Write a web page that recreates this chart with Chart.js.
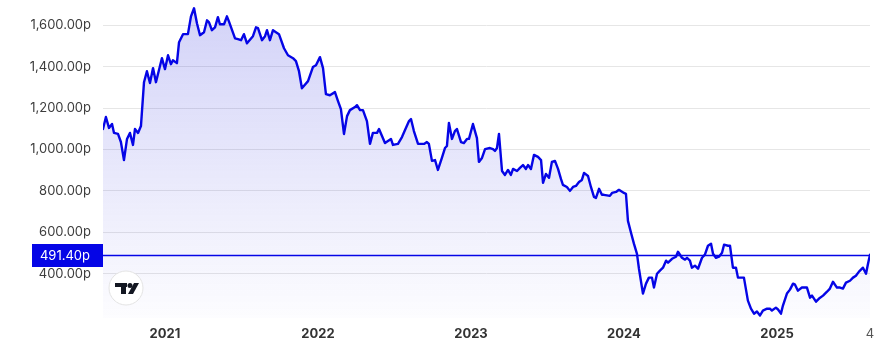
<!DOCTYPE html>
<html>
<head>
<meta charset="utf-8">
<script src="https://cdn.jsdelivr.net/npm/chart.js@4"></script>
<style>
  html, body { margin: 0; padding: 0; background: #fff; }
  #wrap { width: 891px; height: 362px; }
</style>
</head>
<body>
<div id="wrap"><canvas id="priceChart" width="891" height="362"></canvas></div>
<script>
// dates as decimal years, prices in pence
const times = [
    2020.595, 2020.614, 2020.634, 2020.654, 2020.667, 2020.693, 2020.712, 2020.732, 2020.752, 2020.771,
    2020.791, 2020.804, 2020.824, 2020.843, 2020.863, 2020.882, 2020.902, 2020.922, 2020.941, 2020.980,
    2021.000, 2021.020, 2021.039, 2021.052, 2021.078, 2021.092, 2021.118, 2021.150, 2021.170, 2021.190,
    2021.209, 2021.229, 2021.255, 2021.275, 2021.288, 2021.307, 2021.327, 2021.346, 2021.359, 2021.386,
    2021.405, 2021.418, 2021.458, 2021.477, 2021.497, 2021.516, 2021.536, 2021.575, 2021.595, 2021.608,
    2021.634, 2021.654, 2021.667, 2021.686, 2021.706, 2021.745, 2021.778, 2021.804, 2021.837, 2021.856,
    2021.876, 2021.895, 2021.935, 2021.967, 2021.987,
    2022.013, 2022.033, 2022.052, 2022.078, 2022.111, 2022.131, 2022.150, 2022.170, 2022.190, 2022.209,
    2022.242, 2022.255, 2022.275, 2022.294, 2022.320, 2022.340, 2022.359, 2022.386, 2022.399, 2022.438,
    2022.477, 2022.490, 2022.523, 2022.549, 2022.569, 2022.595, 2022.608, 2022.627, 2022.654, 2022.693,
    2022.712, 2022.725, 2022.745, 2022.765, 2022.784, 2022.810, 2022.830, 2022.843, 2022.856, 2022.876,
    2022.895, 2022.908, 2022.935, 2022.954, 2022.974, 2022.987,
    2023.013, 2023.026, 2023.039, 2023.052, 2023.072, 2023.092, 2023.124, 2023.144, 2023.157, 2023.170,
    2023.183, 2023.203, 2023.222, 2023.242, 2023.261, 2023.275, 2023.301, 2023.320, 2023.340, 2023.359,
    2023.373, 2023.392, 2023.412, 2023.438, 2023.458, 2023.471, 2023.490, 2023.510, 2023.529, 2023.549,
    2023.569, 2023.588, 2023.601, 2023.627, 2023.647, 2023.667, 2023.686, 2023.706, 2023.725, 2023.739,
    2023.765, 2023.784, 2023.804, 2023.817, 2023.837, 2023.856, 2023.869, 2023.908, 2023.922, 2023.948,
    2023.967,
    2024.000, 2024.013, 2024.026, 2024.046, 2024.065, 2024.085, 2024.098, 2024.124, 2024.144, 2024.163,
    2024.183, 2024.196, 2024.216, 2024.235, 2024.255, 2024.275, 2024.288, 2024.314, 2024.340, 2024.353,
    2024.379, 2024.399, 2024.412, 2024.431, 2024.444, 2024.464, 2024.484, 2024.510, 2024.529, 2024.549,
    2024.569, 2024.582, 2024.601, 2024.621, 2024.641, 2024.654, 2024.680, 2024.693, 2024.712, 2024.732,
    2024.745, 2024.771, 2024.784, 2024.810, 2024.830, 2024.850, 2024.869, 2024.889, 2024.908, 2024.935,
    2024.954, 2024.967, 2024.993,
    2025.007, 2025.026, 2025.039, 2025.065, 2025.085, 2025.105, 2025.118, 2025.137, 2025.163, 2025.196,
    2025.216, 2025.229, 2025.255, 2025.275, 2025.301, 2025.327, 2025.346, 2025.366, 2025.392, 2025.412,
    2025.431, 2025.451, 2025.477, 2025.497, 2025.516, 2025.536, 2025.562, 2025.582, 2025.595, 2025.608
];

const prices = [
    1099, 1157, 1104, 1123, 1080, 1075, 1036, 949, 1051, 1080,
    1022, 1099, 1080, 1113, 1325, 1378, 1321, 1393, 1325, 1441,
    1388, 1455, 1412, 1431, 1417, 1518, 1557, 1557, 1643, 1682,
    1610, 1552, 1566, 1624, 1614, 1576, 1590, 1639, 1605, 1605,
    1643, 1619, 1537, 1533, 1528, 1557, 1513, 1547, 1590, 1586,
    1528, 1547, 1576, 1528, 1576, 1557, 1489, 1455, 1441, 1427,
    1378, 1296, 1330, 1398, 1407,
    1446, 1393, 1267, 1262, 1277, 1234, 1195, 1075, 1161, 1190,
    1205, 1214, 1190, 1190, 1137, 1027, 1080, 1080, 1099, 1031,
    1051, 1022, 1027, 1060, 1094, 1137, 1147, 1089, 1027, 1027,
    1036, 1027, 945, 949, 901, 959, 1007, 1017, 1128, 1051,
    1089, 1099, 1036, 1031, 1051, 1051,
    1123, 1089, 1055, 940, 959, 1002, 1007, 1002, 993, 1007,
    1075, 896, 877, 901, 877, 906, 896, 911, 925, 906,
    925, 906, 974, 964, 949, 839, 882, 863, 940, 945,
    906, 858, 829, 819, 800, 819, 824, 843, 853, 887,
    872, 819, 771, 766, 810, 781, 781, 776, 790, 795,
    805,
    790, 786, 655, 598, 545, 496, 424, 304, 352, 381,
    381, 333, 400, 415, 429, 463, 453, 472, 482, 506,
    477, 468, 477, 463, 429, 439, 424, 477, 492, 535,
    545, 496, 477, 482, 501, 540, 535, 535, 429, 429,
    381, 381, 381, 270, 231, 207, 217, 198, 222, 231,
    231, 222, 236,
    227, 207, 246, 304, 323, 352, 347, 318, 333, 333,
    284, 294, 265, 280, 294, 313, 328, 361, 333, 333,
    328, 357, 366, 381, 390, 410, 429, 400, 448, 491.4
];

const yearTicks = [2021, 2022, 2023, 2024, 2025];
const priceTicks = [400, 600, 800, 1000, 1200, 1400, 1600];
const endLabel = '4';

const lineBlue = 'rgb(5, 5, 230)';
const tMin = times[0];
const tMax = times[times.length - 1];
const lastPrice = prices[prices.length - 1];

function pence(v, d) {
    return v.toLocaleString('en-GB', { minimumFractionDigits: d, maximumFractionDigits: d }) + 'p';
}

// current price line + label on the axis
const lastPricePlugin = {
    id: 'lastPrice',
    afterDatasetsDraw(chart) {
        const { ctx, chartArea } = chart;
        const y = Math.round(chart.scales.y.getPixelForValue(lastPrice)) + 0.5;
        ctx.save();
        ctx.strokeStyle = lineBlue;
        ctx.lineWidth = 1.3;
        ctx.beginPath();
        ctx.moveTo(chartArea.left, y);
        ctx.lineTo(chartArea.right, y);
        ctx.stroke();
        ctx.restore();
    },
    afterDraw(chart) {
        const { ctx, chartArea } = chart;
        const y = chart.scales.y.getPixelForValue(lastPrice);
        ctx.save();
        ctx.fillStyle = lineBlue;
        ctx.fillRect(32, Math.round(y) - 11, chartArea.left - 32, 23);
        ctx.fillStyle = '#fff';
        ctx.font = '13px Inter, sans-serif';
        ctx.textAlign = 'right';
        ctx.textBaseline = 'middle';
        ctx.fillText(pence(lastPrice, 2), 90, y + 1);
        ctx.restore();
    }
};

// small round badge in the lower left corner
const badgePlugin = {
    id: 'badge',
    afterDraw(chart) {
        const { ctx, chartArea } = chart;
        const cx = chartArea.left + 23, cy = chartArea.bottom - 30;
        ctx.save();
        ctx.beginPath();
        ctx.arc(cx, cy, 17, 0, Math.PI * 2);
        ctx.fillStyle = '#fff';
        ctx.fill();
        ctx.strokeStyle = '#e3e3e3';
        ctx.lineWidth = 1;
        ctx.stroke();
        ctx.fillStyle = '#131722';
        ctx.fillRect(cx - 11, cy - 5, 12, 4);
        ctx.fillRect(cx - 5, cy - 5, 5, 11);
        ctx.beginPath();
        ctx.arc(cx + 4, cy - 2.5, 2.5, 0, Math.PI * 2);
        ctx.fill();
        ctx.beginPath();
        ctx.moveTo(cx + 8, cy - 5);
        ctx.lineTo(cx + 13, cy - 5);
        ctx.lineTo(cx + 7, cy + 6);
        ctx.lineTo(cx + 2, cy + 6);
        ctx.closePath();
        ctx.fill();
        ctx.restore();
    }
};

const ctx = document.getElementById('priceChart').getContext('2d');
const chart = new Chart(ctx, {
    type: 'line',
    data: {
        datasets: [{
            data: times.map((t, i) => ({ x: t, y: prices[i] })),
            borderColor: lineBlue,
            borderWidth: 2.4,
            borderJoinStyle: 'round',
            borderCapStyle: 'round',
            pointRadius: 0,
            tension: 0,
            fill: 'start',
            backgroundColor: function (c) {
                const area = c.chart.chartArea;
                if (!area) return 'rgba(40, 40, 220, 0.12)';
                const g = c.chart.ctx.createLinearGradient(0, area.top, 0, area.bottom);
                g.addColorStop(0, 'rgba(40, 40, 220, 0.21)');
                g.addColorStop(1, 'rgba(40, 40, 220, 0.01)');
                return g;
            }
        }]
    },
    options: {
        responsive: false,
        animation: false,
        layout: { padding: { left: 0, right: 21, top: 0, bottom: 0 } },
        plugins: {
            legend: { display: false },
            tooltip: { enabled: false }
        },
        scales: {
            x: {
                type: 'linear',
                min: tMin,
                max: tMax,
                afterBuildTicks: function (scale) {
                    scale.ticks = yearTicks.map(v => ({ value: v })).concat([{ value: tMax }]);
                },
                afterFit: function (scale) {
                    scale.height = 44;
                    scale.paddingLeft = 0;
                    scale.paddingRight = 0;
                },
                grid: { display: false, drawTicks: false },
                border: { display: false },
                ticks: {
                    autoSkip: false,
                    maxRotation: 0,
                    padding: 8,
                    color: c => c.tick && c.tick.value === tMax ? '#555' : '#333',
                    font: c => c.tick && c.tick.value === tMax
                        ? { family: 'Inter, sans-serif', size: 13, weight: 'normal' }
                        : { family: 'Inter, sans-serif', size: 13, weight: 'bold' },
                    callback: function (value) {
                        return value === tMax ? endLabel : String(value);
                    }
                }
            },
            y: {
                min: 186,
                max: 1722,
                afterBuildTicks: function (scale) {
                    scale.ticks = priceTicks.map(v => ({ value: v }));
                },
                afterFit: function (scale) {
                    scale.width = 103;
                    scale.paddingTop = 0;
                    scale.paddingBottom = 0;
                },
                grid: { color: '#e6e6e6', drawTicks: false },
                border: { display: false },
                ticks: {
                    padding: 12,
                    color: '#3d3d3d',
                    font: { family: 'Inter, sans-serif', size: 13 },
                    callback: function (value) {
                        return pence(value, 2);
                    }
                }
            }
        }
    },
    plugins: [lastPricePlugin, badgePlugin]
});
</script>
</body>
</html>
